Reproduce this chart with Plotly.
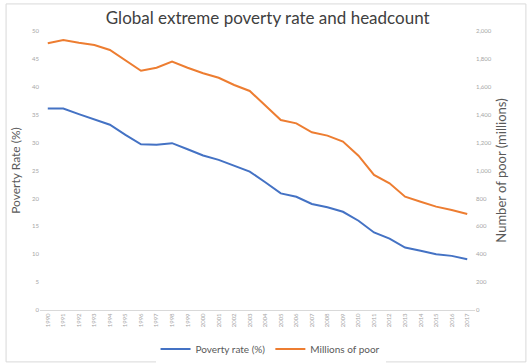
import plotly.graph_objects as go

years = [str(y) for y in range(1990, 2018)]
poverty_rate = [36.1, 36.1, 35.1, 34.2, 33.2, 31.4, 29.7, 29.6, 29.9, 28.8,
                27.7, 26.9, 25.8, 24.8, 22.9, 20.9, 20.3, 19.0, 18.4, 17.6,
                16.0, 13.9, 12.8, 11.2, 10.6, 10.0, 9.7, 9.1]
millions_poor = [1912, 1935, 1916, 1900, 1864, 1787, 1715, 1737, 1780, 1737,
                 1697, 1665, 1613, 1570, 1468, 1362, 1338, 1274, 1250, 1207,
                 1106, 968, 908, 812, 776, 741, 717, 688]

FONT = "Lato"

fig = go.Figure()
fig.add_trace(go.Scatter(x=years, y=poverty_rate, name="Poverty rate (%)",
                         mode="lines", line=dict(color="#4472C4", width=2)))
fig.add_trace(go.Scatter(x=years, y=millions_poor, name="Millions of poor",
                         mode="lines", line=dict(color="#ED7D31", width=2),
                         yaxis="y2"))

fig.update_layout(
    width=527, height=364,
    margin=dict(l=40, r=52, t=31, b=54, autoexpand=False),
    paper_bgcolor="white", plot_bgcolor="white",
    font=dict(family=FONT, color="#595959"),
    title=dict(text="Global extreme poverty rate and headcount",
               xref="container", x=0.508, xanchor="center",
               yref="container", y=0.95, yanchor="middle",
               font=dict(size=17, color="#404040", family=FONT)),
    xaxis=dict(type="category", showgrid=False, showline=True,
               linecolor="#D9D9D9", linewidth=1, ticks="",
               tickangle=-90, tickfont=dict(size=6, color="#A6A6A6"),
               range=[-0.5, 27.5], automargin=False),
    yaxis=dict(range=[0, 50], dtick=5, showgrid=False, zeroline=False,
               showline=False, tickfont=dict(size=6, color="#A6A6A6"),
               automargin=False,
               title=dict(text="Poverty Rate (%)", standoff=8,
                          font=dict(size=12, color="#595959"))),
    yaxis2=dict(range=[0, 2000], dtick=200, overlaying="y", side="right",
                showgrid=False, zeroline=False, showline=False,
                tickformat=",d", tickfont=dict(size=6, color="#A6A6A6"),
                automargin=False,
                title=dict(text="Number of poor (millions)", standoff=6,
                           font=dict(size=13, color="#595959"))),
    legend=dict(orientation="h", x=0.53, xanchor="center", y=-0.14,
                yanchor="middle", font=dict(size=10, color="#595959"),
                itemwidth=30, tracegroupgap=0),
    showlegend=True,
    shapes=[dict(type="rect", xref="paper", yref="paper",
                 x0=-0.078, x1=1.117, y0=-0.186, y1=1.097,
                 line=dict(color="#D9D9D9", width=1))],
)

fig.write_html("out.html")
